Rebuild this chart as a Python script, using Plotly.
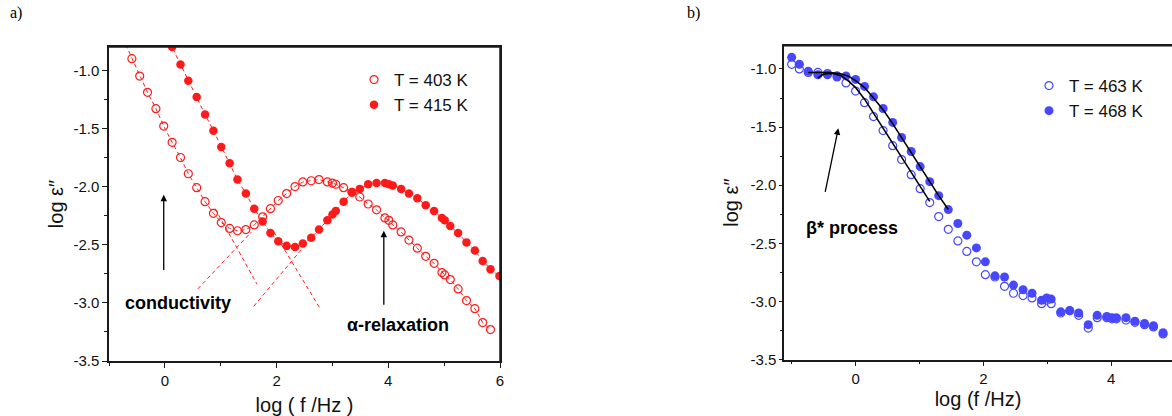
import plotly.graph_objects as go

W, H = 1172, 416

# ---------------- Panel a data ----------------
x_403 = [-0.59, -0.45, -0.31, -0.16, -0.02, 0.13, 0.28, 0.42, 0.57, 0.72, 0.87, 1.01, 1.16, 1.30, 1.45,
         1.60, 1.75, 1.89, 2.03, 2.18, 2.33, 2.47, 2.62, 2.76, 2.91, 3.00, 3.06, 3.20, 3.35, 3.49,
         3.64, 3.79, 3.94, 4.01, 4.08, 4.23, 4.37, 4.52, 4.67, 4.82, 4.96, 5.01, 5.11, 5.25, 5.40,
         5.55, 5.69, 5.83]
y_403 = [-0.90, -1.05, -1.19, -1.33, -1.48, -1.62, -1.75, -1.89, -2.01, -2.13, -2.23, -2.31, -2.36, -2.38, -2.37,
         -2.33, -2.26, -2.19, -2.12, -2.06, -2.00, -1.96, -1.95, -1.94, -1.96, -1.97, -1.98, -2.01, -2.05, -2.09,
         -2.15, -2.20, -2.27, -2.29, -2.33, -2.39, -2.46, -2.53, -2.60, -2.66, -2.74, -2.76, -2.80, -2.88, -2.98,
         -3.05, -3.17, -3.23]

x_415 = [0.13, 0.28, 0.42, 0.57, 0.72, 0.87, 1.01, 1.16, 1.30, 1.45, 1.60, 1.75, 1.89, 2.03, 2.18,
         2.33, 2.47, 2.62, 2.76, 2.91, 3.00, 3.06, 3.20, 3.35, 3.49, 3.64, 3.79, 3.94, 4.01, 4.08,
         4.23, 4.37, 4.52, 4.67, 4.82, 4.96, 5.01, 5.11, 5.25, 5.40, 5.55, 5.69, 5.83, 5.99]
y_415 = [-0.80, -0.95, -1.09, -1.23, -1.38, -1.52, -1.66, -1.80, -1.94, -2.06, -2.19, -2.30, -2.40, -2.47, -2.51,
         -2.52, -2.49, -2.44, -2.37, -2.29, -2.24, -2.21, -2.13, -2.05, -2.02, -1.98, -1.97, -1.97, -1.98, -1.99,
         -2.02, -2.06, -2.10, -2.16, -2.21, -2.27, -2.29, -2.34, -2.40, -2.48, -2.55, -2.64, -2.71, -2.77]

# fit curves (through data, extended to the top edge)
fit_403_x = [-0.70] + x_403
fit_403_y = [-0.78] + y_403
fit_415_x = [0.10] + x_415
fit_415_y = [-0.76] + y_415

# component (dashed) lines
cond_403_x = [0.90, 1.65]
cond_403_y = [-2.19, -2.84]
alpha_403_x = [0.59, 1.55]
alpha_403_y = [-2.88, -2.39]
cond_415_x = [1.95, 2.78]
cond_415_y = [-2.39, -3.05]
alpha_415_x = [1.59, 2.50]
alpha_415_y = [-3.03, -2.51]

# ---------------- Panel b data ----------------
x_b = [-1.00, -0.88, -0.74, -0.59, -0.44, -0.29, -0.15, 0.00, 0.14, 0.28, 0.43, 0.58, 0.72, 0.87, 1.01,
       1.16, 1.30, 1.45, 1.60, 1.74, 1.89, 2.03, 2.18, 2.33, 2.47, 2.62, 2.76, 2.91, 2.99, 3.06,
       3.21, 3.35, 3.49, 3.64, 3.78, 3.93, 4.01, 4.08, 4.23, 4.37, 4.52, 4.66, 4.81]
y_463 = [-0.96, -1.00, -1.03, -1.03, -1.04, -1.06, -1.12, -1.19, -1.29, -1.41, -1.53, -1.66, -1.78, -1.91, -2.03,
         -2.15, -2.27, -2.38, -2.48, -2.57, -2.66, -2.77, -2.79, -2.87, -2.93, -2.95, -2.97, -3.02, -2.99, -3.02,
         -3.10, -3.08, -3.12, -3.23, -3.14, -3.14, -3.15, -3.15, -3.16, -3.18, -3.20, -3.22, -3.28]
y_468 = [-0.90, -0.96, -1.02, -1.05, -1.05, -1.07, -1.06, -1.09, -1.15, -1.24, -1.34, -1.46, -1.59, -1.71, -1.84,
         -1.97, -2.09, -2.21, -2.33, -2.43, -2.54, -2.66, -2.78, -2.79, -2.86, -2.90, -2.93, -2.99, -2.97, -2.98,
         -3.09, -3.08, -3.10, -3.20, -3.12, -3.13, -3.14, -3.14, -3.14, -3.17, -3.19, -3.21, -3.27]

fitb_468_x = [-0.74, -0.55, -0.40, -0.25, -0.12, 0.00, 0.14, 0.28, 0.43, 0.58, 0.72, 0.87, 1.01, 1.16, 1.30, 1.45]
fitb_468_y = [-1.03, -1.03, -1.03, -1.04, -1.06, -1.10, -1.16, -1.25, -1.35, -1.47, -1.59, -1.72, -1.85, -1.97, -2.09, -2.21]
fitb_463_x = [-0.59, -0.52, -0.45, -0.35, -0.22, -0.10, 0.00, 0.14, 0.28, 0.43, 0.58, 0.72, 0.87, 1.01, 1.16]
fitb_463_y = [-1.08, -1.05, -1.04, -1.04, -1.06, -1.11, -1.16, -1.26, -1.38, -1.51, -1.64, -1.77, -1.90, -2.02, -2.14]

# ticks
xa_ticks = [0, 2, 4, 6]
xa_text = ["0", "2", "4", "6"]
xb_ticks = [0, 2, 4]
xb_text = ["0", "2", "4"]
y_ticks = [-1.0, -1.5, -2.0, -2.5, -3.0, -3.5]
y_text = ["-1.0", "-1.5", "-2.0", "-2.5", "-3.0", "-3.5"]

RED = "#ff1a1a"
BLUE = "#4747ff"
FONT = "Liberation Sans, Arial, sans-serif"
LINE = "#1a1a1a"

fig = go.Figure()

# panel a lines
dash = "4px,3px"
fig.add_trace(go.Scatter(x=fit_403_x, y=fit_403_y, mode="lines", line=dict(color=RED, width=1, dash=dash),
                         showlegend=False, xaxis="x", yaxis="y"))
fig.add_trace(go.Scatter(x=fit_415_x, y=fit_415_y, mode="lines", line=dict(color=RED, width=1, dash=dash),
                         showlegend=False, xaxis="x", yaxis="y"))
for cx, cy in [(cond_403_x, cond_403_y), (alpha_403_x, alpha_403_y), (cond_415_x, cond_415_y), (alpha_415_x, alpha_415_y)]:
    fig.add_trace(go.Scatter(x=cx, y=cy, mode="lines", line=dict(color=RED, width=1, dash=dash),
                             showlegend=False, xaxis="x", yaxis="y"))

fig.add_trace(go.Scatter(x=x_403, y=y_403, mode="markers", name="T = 403 K",
                         marker=dict(symbol="circle-open", size=8, color=RED, line=dict(width=1.2, color=RED)),
                         xaxis="x", yaxis="y", legend="legend"))
fig.add_trace(go.Scatter(x=x_415, y=y_415, mode="markers", name="T = 415 K",
                         marker=dict(symbol="circle", size=8.5, color=RED),
                         xaxis="x", yaxis="y", legend="legend"))

# panel b
fig.add_trace(go.Scatter(x=x_b, y=y_463, mode="markers", name="T = 463 K",
                         marker=dict(symbol="circle-open", size=8, color=BLUE, line=dict(width=1.2, color=BLUE)),
                         xaxis="x2", yaxis="y2", legend="legend2"))
fig.add_trace(go.Scatter(x=x_b, y=y_468, mode="markers", name="T = 468 K",
                         marker=dict(symbol="circle", size=9, color=BLUE),
                         xaxis="x2", yaxis="y2", legend="legend2"))
fig.add_trace(go.Scatter(x=fitb_468_x, y=fitb_468_y, mode="lines", line=dict(color="black", width=1.6),
                         showlegend=False, xaxis="x2", yaxis="y2"))
fig.add_trace(go.Scatter(x=fitb_463_x, y=fitb_463_y, mode="lines", line=dict(color="black", width=1.6),
                         showlegend=False, xaxis="x2", yaxis="y2"))

axis_common = dict(showgrid=False, zeroline=False, ticks="outside", tickcolor=LINE, linecolor=LINE,
                   linewidth=1.5, tickfont=dict(family=FONT, size=15, color="#111"), showline=True,
                   automargin=False)

fig.update_layout(
    width=W, height=H, autosize=False, margin=dict(l=0, r=0, t=0, b=0, pad=0),
    paper_bgcolor="white", plot_bgcolor="white",
    font=dict(family=FONT, color="#111"),
    xaxis=dict(domain=[109 / W, 500 / W], range=[-1.0, 6.0], tickvals=xa_ticks, ticktext=xa_text, ticklen=5,
               minor=dict(dtick=1, tick0=0, ticklen=3, ticks="outside", tickcolor=LINE),
               mirror=True, anchor="y",
               title=dict(text="log ( f /Hz )", font=dict(family=FONT, size=20), standoff=10), **axis_common),
    yaxis=dict(domain=[1 - 361 / H, 1 - 47 / H], range=[-3.5, -0.8], tickvals=y_ticks, ticktext=y_text, ticklen=5,
               minor=dict(dtick=0.25, tick0=0, ticklen=3, ticks="outside", tickcolor=LINE),
               mirror=True, anchor="x",
               title=dict(text="log ε\u2033", font=dict(family=FONT, size=20), standoff=4), **axis_common),
    xaxis2=dict(domain=[784 / W, 1.0], range=[-1.12, 4.95], tickvals=xb_ticks, ticktext=xb_text, ticklen=5,
                minor=dict(dtick=1, tick0=0, ticklen=3, ticks="outside", tickcolor=LINE),
                mirror=True, anchor="y2",
                title=dict(text="log (f /Hz)", font=dict(family=FONT, size=20), standoff=6), **axis_common),
    yaxis2=dict(domain=[1 - 359.5 / H, 1 - 45.7 / H], range=[-3.5, -0.8], tickvals=y_ticks, ticktext=y_text, ticklen=3,
                minor=dict(dtick=0.25, tick0=0, ticklen=2, ticks="outside", tickcolor=LINE),
                mirror=False, anchor="x2",
                title=dict(text="log ε\u2033", font=dict(family=FONT, size=20), standoff=6), **axis_common),
    legend=dict(x=354 / W, y=1 - 62 / H, xanchor="left", yanchor="top", bgcolor="rgba(0,0,0,0)",
                font=dict(family=FONT, size=17, color="#111"), tracegroupgap=0, itemwidth=30),
    legend2=dict(x=1029 / W, y=1 - 68 / H, xanchor="left", yanchor="top", bgcolor="rgba(0,0,0,0)",
                 font=dict(family=FONT, size=17, color="#111"), tracegroupgap=0, itemwidth=30),
)

# frame edges (top/right of panel a, top of panel b)
frame = dict(type="line", line=dict(color=LINE, width=1.5), layer="above")
fig.add_shape(xref="x domain", yref="y domain", x0=0, x1=1, y0=1, y1=1, **frame)
fig.add_shape(xref="x domain", yref="y domain", x0=1, x1=1, y0=0, y1=1, **frame)
fig.add_shape(xref="x2 domain", yref="y2 domain", x0=0, x1=1, y0=1, y1=1, **frame)

ann = []
# panel labels
ann.append(dict(xref="paper", yref="paper", x=8 / W, y=1 - 13 / H, xanchor="left", yanchor="middle",
                text="a)", showarrow=False, font=dict(family="Liberation Serif, Times New Roman, serif", size=16, color="black")))
ann.append(dict(xref="paper", yref="paper", x=685 / W, y=1 - 13 / H, xanchor="left", yanchor="middle",
                text="b)", showarrow=False, font=dict(family="Liberation Serif, Times New Roman, serif", size=16, color="black")))
# arrows
arrow = dict(showarrow=True, arrowhead=2, arrowsize=1, arrowwidth=1.3, arrowcolor="black", text="")
ann.append(dict(xref="x", yref="y", axref="x", ayref="y", x=-0.02, y=-2.07, ax=-0.02, ay=-2.73, **arrow))
ann.append(dict(xref="x", yref="y", axref="x", ayref="y", x=3.92, y=-2.38, ax=3.92, ay=-3.03, **arrow))
ann.append(dict(xref="x2", yref="y2", axref="x2", ayref="y2", x=-0.27, y=-1.51, ax=-0.48, ay=-2.07, **arrow))
# labels
bold = dict(family=FONT, size=18, color="black")
ann.append(dict(xref="x", yref="y", x=0.23, y=-3.0, text="<b>conductivity</b>", showarrow=False, font=bold))
ann.append(dict(xref="x", yref="y", x=4.18, y=-3.19, text="<b>α-relaxation</b>", showarrow=False, font=bold))
ann.append(dict(xref="x2", yref="y2", x=-0.05, y=-2.37, text="<b>β* process</b>", showarrow=False, font=bold))
fig.update_layout(annotations=ann)

fig.write_html("out.html",
               config={"displayModeBar": False, "responsive": False},
               default_width="1172px", default_height="416px",
               post_script="document.body.style.margin='0';document.body.style.padding='0';document.body.style.overflow='hidden';")
